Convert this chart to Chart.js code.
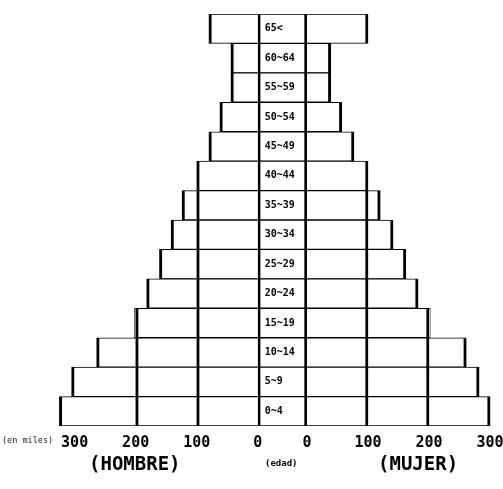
<!DOCTYPE html>
<html><head><meta charset="utf-8">
<script src="https://cdn.jsdelivr.net/npm/chart.js@4.4.0/dist/chart.umd.min.js"></script>
<style>
html,body{margin:0;padding:0;background:#fff;overflow:hidden;}
#wrap{position:relative;width:503px;height:489px;overflow:hidden;}
canvas{display:block;}
.t{position:absolute;font-family:'DejaVu Sans Mono','Liberation Mono',monospace;font-weight:bold;color:#000;white-space:nowrap;line-height:1;}
</style></head><body>
<div id="wrap"><canvas id="c" width="520" height="489"></canvas>
<div class="t" style="left:2px;top:436px;font-size:8.5px;font-weight:normal;color:#222;">(en miles)</div>
<div class="t" style="left:89px;top:454px;font-size:19px;">(HOMBRE)</div>
<div class="t" style="left:265px;top:459px;font-size:9px;">(edad)</div>
<div class="t" style="left:378px;top:454px;font-size:19px;">(MUJER)</div>
</div>
<script>
const ageGroups = ['65<','60~64','55~59','50~54','45~49','40~44','35~39','30~34','25~29','20~24','15~19','10~14','5~9','0~4'];
const hombre = [80,44,44,62,80,100,124,142,161,182,202,264,305,325];
const mujer  = [100,39,39,57,77,100,120,141,162,182,202,261,282,300];
const tickValues = [300,200,100,0];
const segmentBreaks = [0,100,200,1000];

const G = 40.4; // half width of centre label column, in axis units

function seg(vals, lo, hi, side){
  return vals.map(v => v > lo
    ? (side < 0 ? [-G - Math.min(v,hi), -G - lo] : [G + lo, G + Math.min(v,hi)])
    : null);
}
const datasets = [];
for (let k = 0; k < 3; k++){
  const lo = segmentBreaks[k], hi = segmentBreaks[k+1];
  datasets.push({label:'Hombre '+k, data: seg(hombre, lo, hi, -1),
    backgroundColor:'#fff', borderColor:'#000', borderSkipped:false,
    borderWidth:{top:1,bottom:1,left:3,right:0}});
  datasets.push({label:'Mujer '+k, data: seg(mujer, lo, hi, 1),
    backgroundColor:'#fff', borderColor:'#000', borderSkipped:false,
    borderWidth:{top:1,bottom:1,left:0,right:3}});
}
datasets.push({label:'Edad', data: ageGroups.map(() => [-G, G]),
  backgroundColor:'#fff', borderColor:'#000', borderSkipped:false,
  borderWidth:{top:1,bottom:1,left:3,right:3}});

const tickPositions = tickValues.map(v => -(G + v)).concat(tickValues.slice().reverse().map(v => G + v));

const centerLabels = {
  id:'centerLabels',
  afterDatasetsDraw(chart){
    const {ctx, scales:{x, y}} = chart;
    ctx.save();
    ctx.font = 'bold 10px "DejaVu Sans Mono"';
    ctx.fillStyle = '#000';
    ctx.textAlign = 'left';
    ctx.textBaseline = 'middle';
    const x0 = x.getPixelForValue(-G);
    ageGroups.forEach((g, i) => ctx.fillText(g, x0 + 7, y.getPixelForValue(i)));
    ctx.restore();
  }
};

new Chart(document.getElementById('c'), {
  type:'bar',
  data:{labels: ageGroups, datasets},
  options:{
    indexAxis:'y',
    responsive:false,
    animation:false,
    devicePixelRatio:1,
    layout:{padding:{top:14, bottom:29, left:0, right:0}},
    plugins:{legend:{display:false}, tooltip:{enabled:false}},
    datasets:{bar:{grouped:false, barPercentage:1, categoryPercentage:1}},
    scales:{
      y:{display:false, offset:true},
      x:{
        min: -(G + 300 + 122.3), max: G + 349,
        grid:{display:false, drawTicks:false},
        border:{display:false},
        afterBuildTicks: s => { s.ticks = tickPositions.map(v => ({value:v})); },
        ticks:{
          padding:8, maxRotation:0, autoSkip:false,
          color:'#000',
          font:{family:'DejaVu Sans Mono', size:15, weight:'bold'},
          callback: v => String(Math.round(Math.abs(v) - G))
        }
      }
    }
  },
  plugins:[centerLabels]
});
</script>
</body></html>
